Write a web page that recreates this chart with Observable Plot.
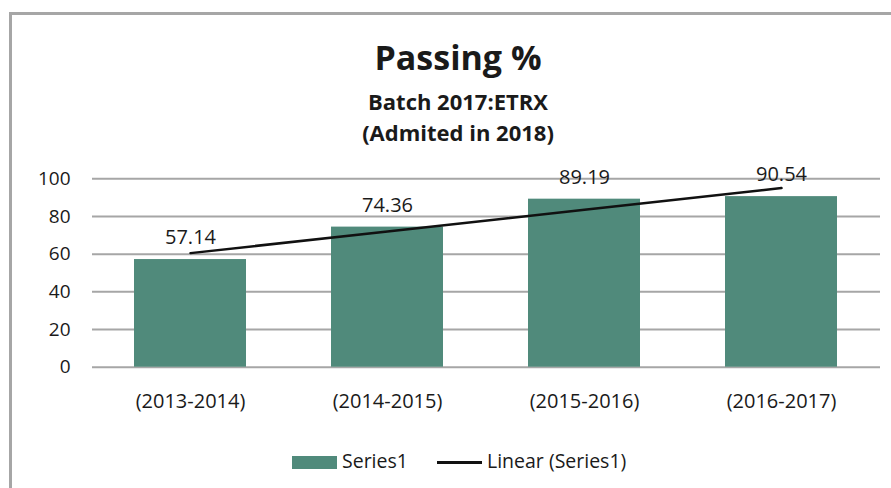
<!DOCTYPE html>
<html>
<head>
<meta charset="utf-8">
<script src="https://cdn.jsdelivr.net/npm/d3@7"></script>
<script src="https://cdn.jsdelivr.net/npm/@observablehq/plot@0.6"></script>
<style>
  html, body { margin: 0; padding: 0; background: #fff; overflow: hidden; }
  #wrap { position: relative; width: 891px; height: 488px; overflow: hidden; font-family: "Open Sans", sans-serif; color: #1a1a1a; }
  #frame { position: absolute; left: 9px; top: 12px; width: 960px; height: 600px; border: 3px solid #a6a6a6; box-sizing: border-box; }
  .t { position: absolute; left: 9px; width: 898px; text-align: center; font-weight: 700; white-space: nowrap; }
  #chart { position: absolute; left: 0; top: 160px; }
  .leg { position: absolute; font-size: 19.5px; line-height: 20px; white-space: nowrap; }
</style>
</head>
<body>
<div id="wrap">
  <div id="frame"></div>
  <div class="t" id="title" style="top:35px;font-size:34px;line-height:44px;">Passing %</div>
  <div class="t" id="sub1" style="top:87px;font-size:22px;line-height:28px;">Batch 2017:ETRX</div>
  <div class="t" id="sub2" style="top:118px;font-size:22px;line-height:28px;">(Admited in 2018)</div>
  <div id="chart"></div>
  <div class="leg" style="left:292px;top:456px;width:45px;height:13px;background:#508a7b;"></div>
  <div class="leg" style="left:342px;top:451px;">Series1</div>
  <div class="leg" style="left:437px;top:461px;width:45px;height:2.5px;background:#111;"></div>
  <div class="leg" style="left:487px;top:451px;">Linear (Series1)</div>
</div>
<script>
const categories = ["(2013-2014)", "(2014-2015)", "(2015-2016)", "(2016-2017)"];
const values = [57.14, 74.36, 89.19, 90.54];
const yTicks = [0, 20, 40, 60, 80, 100];

const data = categories.map((c, i) => ({cat: c, value: values[i]}));

// least-squares linear trend over index 1..n
const xs = values.map((_, i) => i + 1);
const mx = d3.mean(xs), my = d3.mean(values);
const slope = d3.sum(xs, (x, i) => (x - mx) * (values[i] - my)) / d3.sum(xs, x => (x - mx) ** 2);
const intercept = my - slope * mx;
const trend = categories.map((c, i) => ({cat: c, value: intercept + slope * (i + 1)}));

const plot = Plot.plot({
  width: 891,
  height: 260,
  marginLeft: 92,
  marginRight: 11,
  marginTop: 18.3,
  marginBottom: 53.3,
  style: {fontFamily: "Open Sans, sans-serif", fontSize: "19px", color: "#1a1a1a", background: "transparent", overflow: "visible"},
  x: {domain: categories, paddingInner: 0.43, paddingOuter: 0.215, label: null},
  y: {domain: [0, 100], ticks: yTicks, label: null},
  marks: [
    Plot.ruleY(yTicks, {stroke: "#a6a6a6", strokeWidth: 2}),
    Plot.barY(data, {x: "cat", y: "value", fill: "#508a7b"}),
    Plot.line(trend, {x: "cat", y: "value", stroke: "#111", strokeWidth: 2.5}),
    Plot.text(data, {x: "cat", y: "value", text: d => d.value.toFixed(2), dy: -22, fontSize: 20, fill: "#1a1a1a"}),
    Plot.axisY({ticks: yTicks, tickSize: 0, tickPadding: 22, fontSize: 19, label: null}),
    Plot.axisX({tickSize: 0, tickPadding: 27, fontSize: 20, label: null})
  ]
});
document.getElementById("chart").appendChild(plot);
</script>
</body>
</html>
